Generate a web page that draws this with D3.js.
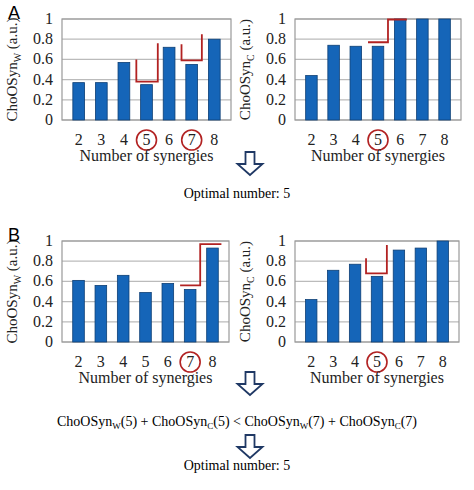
<!DOCTYPE html><html><head><meta charset="utf-8"><script src="https://cdn.jsdelivr.net/npm/d3@7"></script>
<style>body{margin:0;background:#fff}</style></head><body>
<svg id="c" width="474" height="490" font-family="Liberation Serif, DejaVu Serif, serif"></svg>
<script>
const categories=[2,3,4,5,6,7,8];
const yTicks=[0,0.2,0.4,0.6,0.8,1];
const aW=[0.37,0.37,0.57,0.35,0.72,0.55,0.80];
const aC=[0.44,0.74,0.73,0.73,1.0,1.0,1.0];
const bW=[0.61,0.56,0.66,0.49,0.58,0.52,0.93];
const bC=[0.42,0.71,0.77,0.65,0.91,0.93,1.0];
// red step lines: [category, offset in steps, value]
const stepsAW=[[[5,-0.45,0.60],[5,-0.45,0.38],[5,0.5,0.38],[5,0.5,0.76]],[[7,-0.45,0.75],[7,-0.45,0.59],[7,0.45,0.59],[7,0.45,0.85]]];
const stepsAC=[[[5,-0.45,0.77],[5,0.45,0.77],[5,0.45,0.995],[6,0.3,0.995]]];
const stepsBW=[[[7,-0.45,0.56],[7,0.45,0.56],[7,0.45,0.97],[8,0.4,0.97]]];
const stepsBC=[[[5,-0.5,0.83],[5,-0.5,0.68],[5,0.45,0.68],[5,0.45,0.96]]];
const svg=d3.select("#c");
svg.style("font-family","'Liberation Serif','DejaVu Serif',serif");
function panel(x0,x1,y0,y1,vals,sub,steps,circ){
  const x=d3.scaleBand().domain(categories).range([x0,x1]).padding(0.48);
  const y=d3.scaleLinear().domain([0,1]).range([y1,y0]);
  const g=svg.append("g").attr("fill","#222");
  g.selectAll("line.g").data(yTicks).join("line").attr("x1",x0).attr("x2",x1).attr("y1",d=>y(d)).attr("y2",d=>y(d)).attr("stroke","#bbb").attr("stroke-width",1.2);
  g.append("rect").attr("x",x0).attr("y",y0).attr("width",x1-x0).attr("height",y1-y0).attr("fill","none").attr("stroke","#999").attr("stroke-width",1.2);
  g.selectAll("rect.b").data(vals).join("rect").attr("x",(d,i)=>x(categories[i])).attr("width",x.bandwidth()).attr("y",d=>y(d)).attr("height",d=>y1-y(d)).attr("fill","#1565b8").attr("stroke","#0d3f75").attr("stroke-width",0.8);
  g.selectAll("text.yt").data(yTicks).join("text").attr("x",x0-9).attr("y",d=>y(d)+5).attr("text-anchor","end").attr("font-size",16).text(d=>d);
  g.selectAll("text.xt").data(categories).join("text").attr("x",d=>x(d)+x.bandwidth()/2).attr("y",y1+25).attr("text-anchor","middle").attr("font-size",16).text(d=>d);
  circ.forEach(c=>g.append("circle").attr("cx",x(c)+x.bandwidth()/2).attr("cy",y1+20).attr("r",10).attr("fill","none").attr("stroke","#b22222").attr("stroke-width",1.6));
  g.append("text").attr("x",(x0+x1)/2).attr("y",y1+41).attr("text-anchor","middle").attr("font-size",16).text("Number of synergies");
  const yl=g.append("text").attr("transform",`translate(${x0-45},${(y0+y1)/2}) rotate(-90)`).attr("text-anchor","middle").attr("font-size",15);
  yl.append("tspan").text("ChoOSyn");yl.append("tspan").attr("font-size",10).attr("dy",4).text(sub);yl.append("tspan").attr("dy",-4).text(" (a.u.)");
  const step=x.step();
  steps.forEach(s=>g.append("path").attr("d",d3.line()(s.map(p=>[x(p[0])+x.bandwidth()/2+p[1]*step,y(p[2])]))).attr("fill","none").attr("stroke","#b22222").attr("stroke-width",1.8));
}
panel(62,231,19,120,aW,"W",stepsAW,[5,7]);
panel(295,461,19,120,aC,"C",stepsAC,[5]);
panel(62,229,241,342,bW,"W",stepsBW,[7]);
panel(295,459,241,342,bC,"C",stepsBC,[5]);
function arrow(cx,ytop){
  const w=9,h=12,hw=17,hh=11;
  svg.append("path").attr("d",`M${cx-w/2},${ytop}h${w}v${h}h${hw/2-w/2+4}l${-hw/2-4},${hh}l${-hw/2-4},${-hh}h${hw/2-w/2+4}z`).attr("fill","#fff").attr("stroke","#1f3864").attr("stroke-width",1.8);
}
arrow(250,152);arrow(250,372);arrow(250,435);
svg.append("text").attr("x",8).attr("y",19).attr("font-size",18).style("font-family","'Liberation Sans',Arial,sans-serif").text("A");
svg.append("text").attr("x",8).attr("y",241).attr("font-size",18).style("font-family","'Liberation Sans',Arial,sans-serif").text("B");
svg.append("text").attr("x",237).attr("y",198).attr("text-anchor","middle").attr("font-size",14).text("Optimal number: 5");
svg.append("text").attr("x",237).attr("y",470).attr("text-anchor","middle").attr("font-size",14).text("Optimal number: 5");
const eq=svg.append("text").attr("x",237).attr("y",426).attr("text-anchor","middle").attr("font-size",14);
["ChoOSyn","W","(5) + ChoOSyn","C","(5)  <  ChoOSyn","W","(7) + ChoOSyn","C","(7)"].forEach((t,i)=>{
  if(i%2==1) eq.append("tspan").attr("font-size",9).attr("dy",3).text(t);
  else eq.append("tspan").attr("dy",i?-3:0).text(t);
});
</script></body></html>
